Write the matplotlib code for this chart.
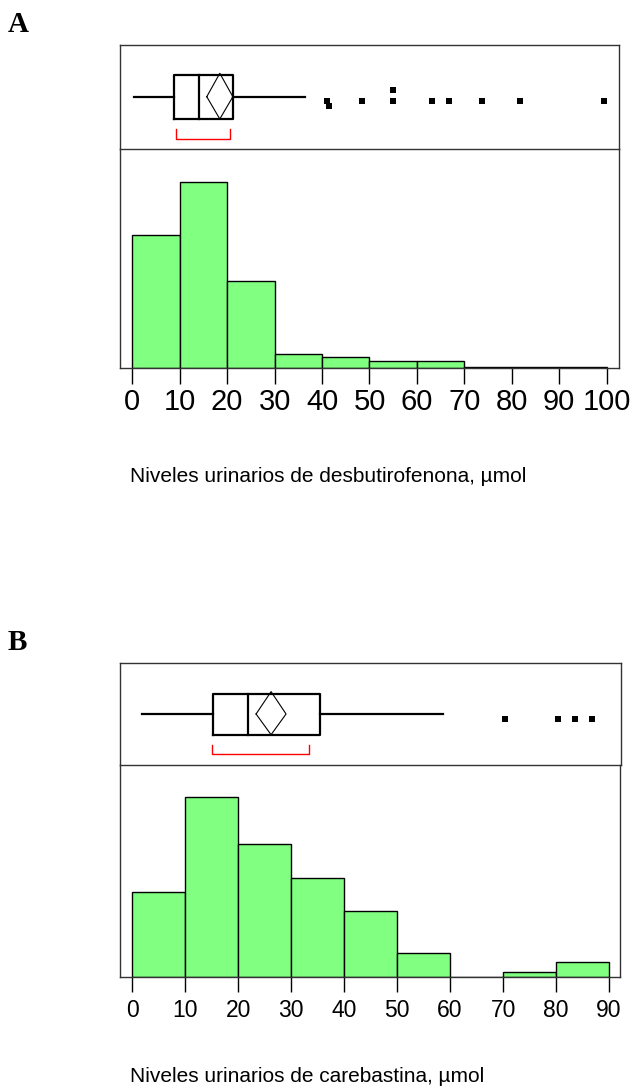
import numpy as np
import matplotlib
matplotlib.use('Agg')
import matplotlib.pyplot as plt

# --- datos panel A (desbutirofenona) ---
A_edges = [0, 10, 20, 30, 40, 50, 60, 70, 80, 90, 100]
A_freq = [28.5, 39.8, 18.7, 3.0, 2.4, 1.5, 1.5, 0.35, 0.35, 0.35]
A_whisk = [0.4, 36.4]
A_q1, A_med, A_q3 = 8.8, 14.1, 21.2
A_mean, A_ci = 18.45, 2.75
A_short = [9.15, 20.7]
A_out = [41.0, 41.5, 48.5, 55.0, 55.0, 63.2, 66.7, 73.8, 81.8, 99.5]
A_ticks = [0, 10, 20, 30, 40, 50, 60, 70, 80, 90, 100]

# --- datos panel B (carebastina) ---
B_edges = [0, 10, 20, 30, 40, 50, 60, 70, 80, 90]
B_freq = [18, 38, 28, 21, 14, 5, 0, 1, 3]
B_whisk = [1.8, 58.7]
B_q1, B_med, B_q3 = 15.3, 21.8, 35.5
B_mean, B_ci = 26.2, 2.83
B_short = [15.0, 33.4]
B_out = [70.4, 80.4, 83.6, 86.7]
B_ticks = [0, 10, 20, 30, 40, 50, 60, 70, 80, 90]

verde = '#80ff80'
plt.rcParams['font.family'] = ['Liberation Sans', 'DejaVu Sans']


def caja(ax, whisk, q1, med, q3, mean, ci, short, out, yb):
    # yb: (centro, abajo, arriba, linea roja, tope roja)
    yc, ylo, yhi, yr, yrc = yb
    lw = 1.6
    ax.plot([whisk[0], q1], [yc, yc], color='k', lw=lw)
    ax.plot([q3, whisk[1]], [yc, yc], color='k', lw=lw)
    ax.plot([q1, q3, q3, q1, q1], [ylo, ylo, yhi, yhi, ylo], color='k', lw=lw)
    ax.plot([med, med], [ylo, yhi], color='k', lw=lw)
    ax.plot([mean - ci, mean, mean + ci, mean, mean - ci],
            [yc, yhi + 0.02, yc, ylo, yc], color='k', lw=0.8)
    ax.plot([short[0], short[0], short[1], short[1]], [yrc, yr, yr, yrc], color='red', lw=1)
    # apilar atipicos repetidos / muy cercanos
    ys = []
    prev = None
    lvl = 0
    for v in out:
        if prev is not None and v == prev:
            lvl += 1
            ys.append(yc - 0.045 + lvl * 0.11)
        elif prev is not None and abs(v - prev) < 1:
            ys.append(yc - 0.09)
            lvl = 0
        else:
            ys.append(yc - 0.045)
            lvl = 0
        prev = v
    ax.plot(out, ys, 's', color='k', ms=3.8, mew=0)
    ax.set_ylim(0, 1)
    ax.set_xticks([])
    ax.set_yticks([])
    ax.patch.set_visible(False)
    ax.set_zorder(3)
    for s in ax.spines.values():
        s.set_color('#333333')
        s.set_linewidth(1)


def hist(ax, edges, freq, ticks, top, fs, tl, pad):
    ax.bar(edges[:-1], freq, width=np.diff(edges), align='edge',
           color=verde, edgecolor='k', linewidth=1)
    ax.set_ylim(0, top)
    ax.set_yticks([])
    ax.set_xticks(ticks)
    ax.set_xticklabels([str(t) for t in ticks])
    ax.tick_params(axis='x', direction='out', length=tl, width=1, labelsize=fs, pad=pad)
    ax.patch.set_visible(False)
    ax.spines['top'].set_visible(False)
    for s in ['left', 'right', 'bottom']:
        ax.spines[s].set_color('#333333')
        ax.spines[s].set_linewidth(1)


fig = plt.figure(figsize=(6.41, 10.86), dpi=100)

# Panel A
axA2 = fig.add_axes([0.1872, 0.6609, 0.7785, 0.2017])
axA1 = fig.add_axes([0.1872, 0.8625, 0.7785, 0.0963])
caja(axA1, A_whisk, A_q1, A_med, A_q3, A_mean, A_ci, A_short, A_out,
     (0.503, 0.29, 0.707, 0.098, 0.194))
hist(axA2, A_edges, A_freq, A_ticks, 46.9, 21, 11.5, 3)
axA1.set_xlim(-2.59, 102.6)
axA2.set_xlim(-2.59, 102.6)

# Panel B
axB2 = fig.add_axes([0.1872, 0.1007, 0.7800, 0.1947])
axB1 = fig.add_axes([0.1872, 0.2953, 0.7816, 0.0945])
caja(axB1, B_whisk, B_q1, B_med, B_q3, B_mean, B_ci, B_short, B_out,
     (0.50, 0.298, 0.698, 0.11, 0.198))
hist(axB2, B_edges, B_freq, B_ticks, 44.8, 16.5, 10.8, 5)
axB1.set_xlim(-2.32, 92.26)
axB2.set_xlim(-2.32, 92.07)

fig.text(0.2028, 0.5608, 'Niveles urinarios de desbutirofenona, µmol',
         fontsize=15, va='center', ha='left')
fig.text(0.2028, 0.0083, 'Niveles urinarios de carebastina, µmol',
         fontsize=15, va='center', ha='left')

fig.text(0.0125, 0.9774, 'A', family=['Liberation Serif'], fontweight='bold',
         fontsize=21, va='center', ha='left')
fig.text(0.0125, 0.408, 'B', family=['Liberation Serif'], fontweight='bold',
         fontsize=21, va='center', ha='left')

plt.savefig('out.png', dpi=100)
